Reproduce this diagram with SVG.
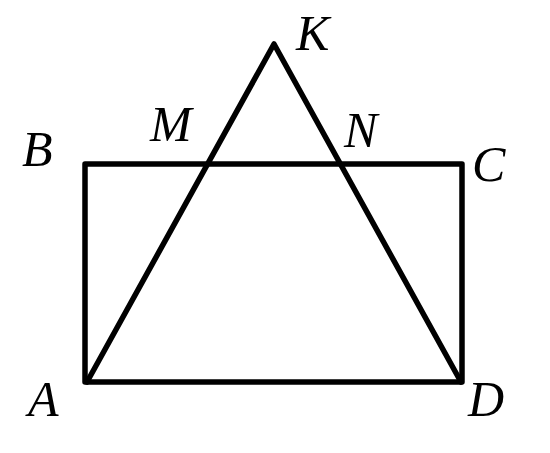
<svg xmlns="http://www.w3.org/2000/svg" width="550" height="453" viewBox="0 0 550 453">
<style>
.l{font-family:"Liberation Serif","Times New Roman",serif;font-style:italic;font-size:50px;fill:#000}
.s{fill:none;stroke:#000;stroke-width:5.5;stroke-linejoin:round;stroke-linecap:round}
</style>
<rect width="550" height="453" fill="#fff"/>
<g id="connectors">
<rect class="s" x="85" y="164" width="377" height="218"/>
<polyline class="s" points="87,382 274,44 461,382"/>
</g>
<g id="K"><text class="l" x="296" y="50">K</text></g>
<g id="M"><text class="l" x="150" y="141">M</text></g>
<g id="N"><text class="l" x="344" y="147">N</text></g>
<g id="B"><text class="l" x="22" y="166">B</text></g>
<g id="C"><text class="l" x="472" y="181">C</text></g>
<g id="A"><text class="l" x="28" y="416">A</text></g>
<g id="D"><text class="l" x="468" y="416">D</text></g>
</svg>
